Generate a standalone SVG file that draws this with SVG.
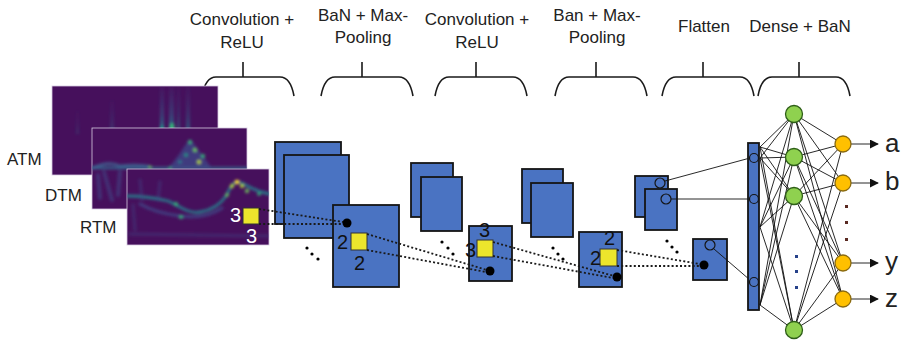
<svg xmlns="http://www.w3.org/2000/svg" width="906" height="343" viewBox="0 0 906 343">
<style>
text{font-family:"Liberation Sans",Arial,sans-serif;fill:#222}
.lbl{font-size:17px;text-anchor:middle}
.side{font-size:17px}
.brace{fill:none;stroke:#1a1a1a;stroke-width:1.6}
.map{fill:#46105c;stroke:#d6cbe0;stroke-width:0.8}
.fm{fill:#4a73c2;stroke:#151515;stroke-width:1.8}
.ker{fill:#ece52c;stroke:#333;stroke-width:1}
.num{font-size:20px;fill:#111}
.wnum{font-size:20px;fill:#fff}
.dot{fill:#000}
.hole{fill:none;stroke:#151515;stroke-width:1.2}
.dash{fill:none;stroke:#1a1a1a;stroke-width:1.8;stroke-dasharray:2 2.2}
.wire{stroke:#111;stroke-width:0.9;fill:none}
.g{fill:#8fd14f;stroke:#2e5e18;stroke-width:1.3}
.o{fill:#ffc000;stroke:#8a6a10;stroke-width:1.3}
.out{font-size:26px}
.feat{fill:none;stroke-linecap:round}
</style>
<defs>
  <path id="brace" d="M0,19 C2,8 6,0 14,0 L78,0 C86,0 90,8 92,19 M41,-15 V0"/>
  <marker id="arr" viewBox="0 0 10 10" refX="9" refY="5" markerWidth="9" markerHeight="9" markerUnits="userSpaceOnUse" orient="auto">
    <path d="M0,0 L10,5 L0,10 Z" fill="#111"/>
  </marker>
  <linearGradient id="streak" x1="0" y1="0" x2="0" y2="1">
    <stop offset="0" stop-color="#3e4a89" stop-opacity="0.1"/>
    <stop offset="0.6" stop-color="#31688e" stop-opacity="0.5"/>
    <stop offset="1" stop-color="#26828e" stop-opacity="0.95"/>
  </linearGradient>
  <filter id="soft" x="-10%" y="-10%" width="120%" height="120%">
    <feGaussianBlur stdDeviation="1.4"/>
  </filter>
  <clipPath id="clipA"><rect x="52" y="86" width="166" height="89"/></clipPath>
  <clipPath id="clipD"><rect x="92" y="128" width="155" height="81"/></clipPath>
  <clipPath id="clipR"><rect x="127" y="169" width="142" height="76"/></clipPath>
</defs>

<!-- layer captions -->
<g id="captions">
  <text class="lbl" x="242" y="25">Convolution +</text>
  <text class="lbl" x="242" y="48">ReLU</text>
  <text class="lbl" x="363" y="21">BaN + Max-</text>
  <text class="lbl" x="363" y="43">Pooling</text>
  <text class="lbl" x="477" y="25">Convolution +</text>
  <text class="lbl" x="477" y="48">ReLU</text>
  <text class="lbl" x="597" y="21">Ban + Max-</text>
  <text class="lbl" x="597" y="43">Pooling</text>
  <text class="lbl" x="704" y="32">Flatten</text>
  <text class="lbl" x="800" y="32">Dense + BaN</text>
</g>

<!-- braces under each caption -->
<g id="braces" class="brace">
  <use href="#brace" x="202" y="77"/>
  <use href="#brace" x="321" y="77"/>
  <use href="#brace" x="435" y="77"/>
  <use href="#brace" x="555" y="77"/>
  <use href="#brace" x="662" y="77"/>
  <use href="#brace" x="758" y="77"/>
</g>

<!-- input maps -->
<g id="atm">
  <rect class="map" x="52" y="86" width="166" height="89"/>
  <g clip-path="url(#clipA)">
    <g filter="url(#soft)">
      <rect x="160" y="86" width="4" height="48" fill="url(#streak)"/>
      <rect x="169" y="86" width="5" height="48" fill="url(#streak)"/>
      <rect x="177" y="86" width="3" height="48" fill="url(#streak)" opacity="0.6"/>
      <rect x="186" y="86" width="4" height="48" fill="url(#streak)" opacity="0.7"/>
      <rect x="110" y="100" width="4" height="34" fill="url(#streak)" opacity="0.4"/>
      <rect x="76" y="110" width="3" height="24" fill="url(#streak)" opacity="0.25"/>
      <ellipse cx="172" cy="127" rx="2.5" ry="4" fill="#35b779"/>
      <ellipse cx="162" cy="128" rx="2" ry="3" fill="#1f9e89" opacity="0.8"/>
    </g>
  </g>
  <text class="side" x="7" y="165">ATM</text>
</g>

<g id="dtm">
  <rect class="map" x="92" y="128" width="155" height="81"/>
  <g clip-path="url(#clipD)">
    <g filter="url(#soft)">
      <path class="feat" d="M92,168 L247,168" stroke="#31688e" stroke-width="2.5" opacity="0.9"/>
      <path class="feat" d="M92,168 C100,165 110,161 120,166 C130,165 140,164 150,167" stroke="#3e6a96" stroke-width="3" opacity="0.8"/>
      <path d="M168,168 C178,158 184,146 190,139 C196,146 204,158 212,168 Z" fill="#3e4a89" opacity="0.75"/>
      <path class="feat" d="M104,172 L112,200 M120,172 L118,195 M98,175 L100,198" stroke="#3e4a89" stroke-width="4" opacity="0.55"/>
      <circle cx="190" cy="142" r="2" fill="#35b779"/>
      <circle cx="195" cy="150" r="2" fill="#6ece58"/>
      <circle cx="203" cy="156" r="2" fill="#35b779"/>
      <circle cx="186" cy="155" r="1.8" fill="#1f9e89"/>
      <circle cx="199" cy="162" r="2" fill="#b5de2b"/>
      <circle cx="180" cy="162" r="1.8" fill="#26828e"/>
      <circle cx="150" cy="167" r="1.6" fill="#6ece58"/>
      <circle cx="170" cy="168" r="1.6" fill="#35b779"/>
    </g>
  </g>
  <text class="side" x="45" y="201">DTM</text>
</g>

<g id="rtm">
  <rect class="map" x="127" y="169" width="142" height="76"/>
  <g clip-path="url(#clipR)">
    <g filter="url(#soft)">
      <path class="feat" d="M127,196 C140,196 155,198 168,201 C180,206 188,214 200,212 C212,210 220,205 226,196 C230,188 232,184 236,182 C242,180 248,190 269,194" stroke="#26828e" stroke-width="2.8" opacity="0.9"/>
      <path class="feat" d="M140,204 C152,211 165,214 180,216 C195,218 210,216 222,208" stroke="#3e4a89" stroke-width="3" opacity="0.8"/>
      <path class="feat" d="M130,234 L269,236" stroke="#3e4a89" stroke-width="3" opacity="0.4"/>
      <path class="feat" d="M140,180 L142,200 M160,182 L158,200 M133,205 L135,230" stroke="#3e4a89" stroke-width="3" opacity="0.4"/>
      <circle cx="232" cy="186" r="2" fill="#b5de2b"/>
      <circle cx="237" cy="182" r="2.2" fill="#fde725"/>
      <circle cx="242" cy="186" r="2" fill="#b5de2b"/>
      <circle cx="247" cy="191" r="2" fill="#6ece58"/>
      <circle cx="227" cy="195" r="1.8" fill="#6ece58"/>
      <circle cx="176" cy="204" r="2" fill="#35b779"/>
      <circle cx="181" cy="217" r="2" fill="#35b779"/>
      <circle cx="259" cy="194" r="1.8" fill="#35b779"/>
    </g>
  </g>
  <rect class="ker" x="243" y="208" width="16" height="16"/>
  <text class="wnum" x="230" y="222">3</text>
  <text class="wnum" x="246" y="243">3</text>
  <text class="side" x="80" y="233">RTM</text>
</g>

<!-- convolution block 1 -->
<g id="conv1">
  <rect class="fm" x="275" y="142" width="66" height="82"/>
  <rect class="fm" x="284" y="155" width="65" height="83"/>
  <circle class="dot" cx="307" cy="248" r="1.6"/>
  <circle class="dot" cx="312" cy="254" r="1.6"/>
  <circle class="dot" cx="318" cy="259" r="1.6"/>
</g>
<g id="conv1-map">
  <rect class="fm" x="333" y="205" width="66" height="82"/>
  <circle class="dot" cx="347" cy="223" r="4.5"/>
  <rect class="ker" x="351" y="233" width="16" height="17"/>
  <text class="num" x="337" y="249">2</text>
  <text class="num" x="354" y="270">2</text>
</g>

<!-- pooling block 1 -->
<g id="pool1">
  <rect class="fm" x="411" y="163" width="42" height="54"/>
  <rect class="fm" x="421" y="177" width="41" height="54"/>
  <circle class="dot" cx="442" cy="242" r="1.6"/>
  <circle class="dot" cx="448" cy="248" r="1.6"/>
  <circle class="dot" cx="453" cy="254" r="1.6"/>
</g>
<g id="pool1-map">
  <rect class="fm" x="469" y="226" width="43" height="55"/>
  <circle class="dot" cx="490" cy="271" r="4.5"/>
  <rect class="ker" x="477" y="240" width="16" height="17"/>
  <text class="num" x="479" y="237">3</text>
  <text class="num" x="465" y="257">3</text>
</g>

<!-- convolution block 2 -->
<g id="conv2">
  <rect class="fm" x="522" y="169" width="41" height="54"/>
  <rect class="fm" x="531" y="183" width="42" height="54"/>
  <circle class="dot" cx="553" cy="248" r="1.6"/>
  <circle class="dot" cx="558" cy="254" r="1.6"/>
  <circle class="dot" cx="563" cy="259" r="1.6"/>
</g>
<g id="conv2-map">
  <rect class="fm" x="579" y="232" width="43" height="55"/>
  <circle class="dot" cx="617" cy="277" r="4.5"/>
  <rect class="ker" x="600" y="249" width="17" height="17"/>
  <text class="num" x="604" y="245">2</text>
  <text class="num" x="590" y="265">2</text>
</g>

<!-- pooling block 2 -->
<g id="pool2">
  <rect class="fm" x="635" y="176" width="33" height="41"/>
  <circle class="hole" cx="660" cy="183" r="5"/>
  <rect class="fm" x="645" y="189" width="32" height="41"/>
  <circle class="hole" cx="666" cy="199" r="5"/>
  <circle class="dot" cx="667" cy="241" r="1.6"/>
  <circle class="dot" cx="672" cy="247" r="1.6"/>
  <circle class="dot" cx="677" cy="252" r="1.6"/>
</g>
<g id="pool2-map">
  <rect class="fm" x="693" y="239" width="34" height="41"/>
  <circle class="hole" cx="710" cy="245" r="5"/>
  <circle class="dot" cx="704" cy="265" r="4.5"/>
</g>

<!-- connectors -->
<g id="connectors">
  <g class="dash">
    <path d="M259,209 L343,222"/>
    <path d="M259,224 L343,224"/>
    <path d="M367,234 L487,270"/>
    <path d="M367,250 L486,272"/>
    <path d="M493,242 L614,276"/>
    <path d="M493,256 L613,278"/>
    <path d="M617,250 L700,264"/>
    <path d="M617,266 L700,266"/>
  </g>
  <g class="wire">
    <path d="M665,181 L750,158"/>
    <path d="M671,199 L750,199"/>
    <path d="M714,249 L750,280"/>
    <!-- flatten vector to dense layer -->
    <path d="M760,147 L794,114 M760,147 L794,157 M760,147 L794,196 M760,147 L794,330"/>
    <path d="M760,158 L794,114 M760,158 L794,157 M760,158 L794,196 M760,158 L794,330"/>
    <path d="M760,227 L794,114 M760,227 L794,157 M760,227 L794,196 M760,227 L794,330"/>
    <path d="M760,305 L794,114 M760,305 L794,157 M760,305 L794,196 M760,305 L794,330"/>
    <!-- dense layer to outputs -->
    <path d="M794,114 L843,144 M794,114 L843,183 M794,114 L843,263 M794,114 L843,299"/>
    <path d="M794,157 L843,144 M794,157 L843,183 M794,157 L843,263 M794,157 L843,299"/>
    <path d="M794,196 L843,144 M794,196 L843,183 M794,196 L843,263 M794,196 L843,299"/>
    <path d="M794,330 L843,144 M794,330 L843,183 M794,330 L843,263 M794,330 L843,299"/>
  </g>
  <g class="wire" marker-end="url(#arr)">
    <path d="M851,144 L878,144"/>
    <path d="M851,183 L878,183"/>
    <path d="M851,263 L878,263"/>
    <path d="M851,299 L878,299"/>
  </g>
</g>

<!-- flattened vector -->
<g id="flatten">
  <rect class="fm" x="748" y="143" width="11" height="167"/>
  <circle class="hole" cx="754" cy="158" r="4.5"/>
  <circle class="hole" cx="754" cy="199" r="4.5"/>
  <circle class="hole" cx="754" cy="282" r="4.5"/>
</g>

<!-- dense layer -->
<g id="dense">
  <circle class="g" cx="794" cy="114" r="8.5"/>
  <circle class="g" cx="794" cy="157" r="8.5"/>
  <circle class="g" cx="794" cy="196" r="8.5"/>
  <circle class="g" cx="794" cy="330" r="8.5"/>
  <rect x="795" y="255" width="3" height="3" fill="#27428a"/>
  <rect x="795" y="270" width="3" height="3" fill="#27428a"/>
  <rect x="795" y="286" width="3" height="3" fill="#27428a"/>
</g>

<!-- outputs -->
<g id="outputs">
  <circle class="o" cx="843" cy="144" r="8"/>
  <circle class="o" cx="843" cy="183" r="8"/>
  <circle class="o" cx="843" cy="263" r="8"/>
  <circle class="o" cx="843" cy="299" r="8"/>
  <rect x="845" y="205" width="3" height="3" fill="#5a2a22"/>
  <rect x="845" y="221" width="3" height="3" fill="#5a2a22"/>
  <rect x="845" y="238" width="3" height="3" fill="#5a2a22"/>
  <text class="out" x="885" y="152">a</text>
  <text class="out" x="885" y="190">b</text>
  <text class="out" x="885" y="270">y</text>
  <text class="out" x="885" y="307">z</text>
</g>
</svg>
